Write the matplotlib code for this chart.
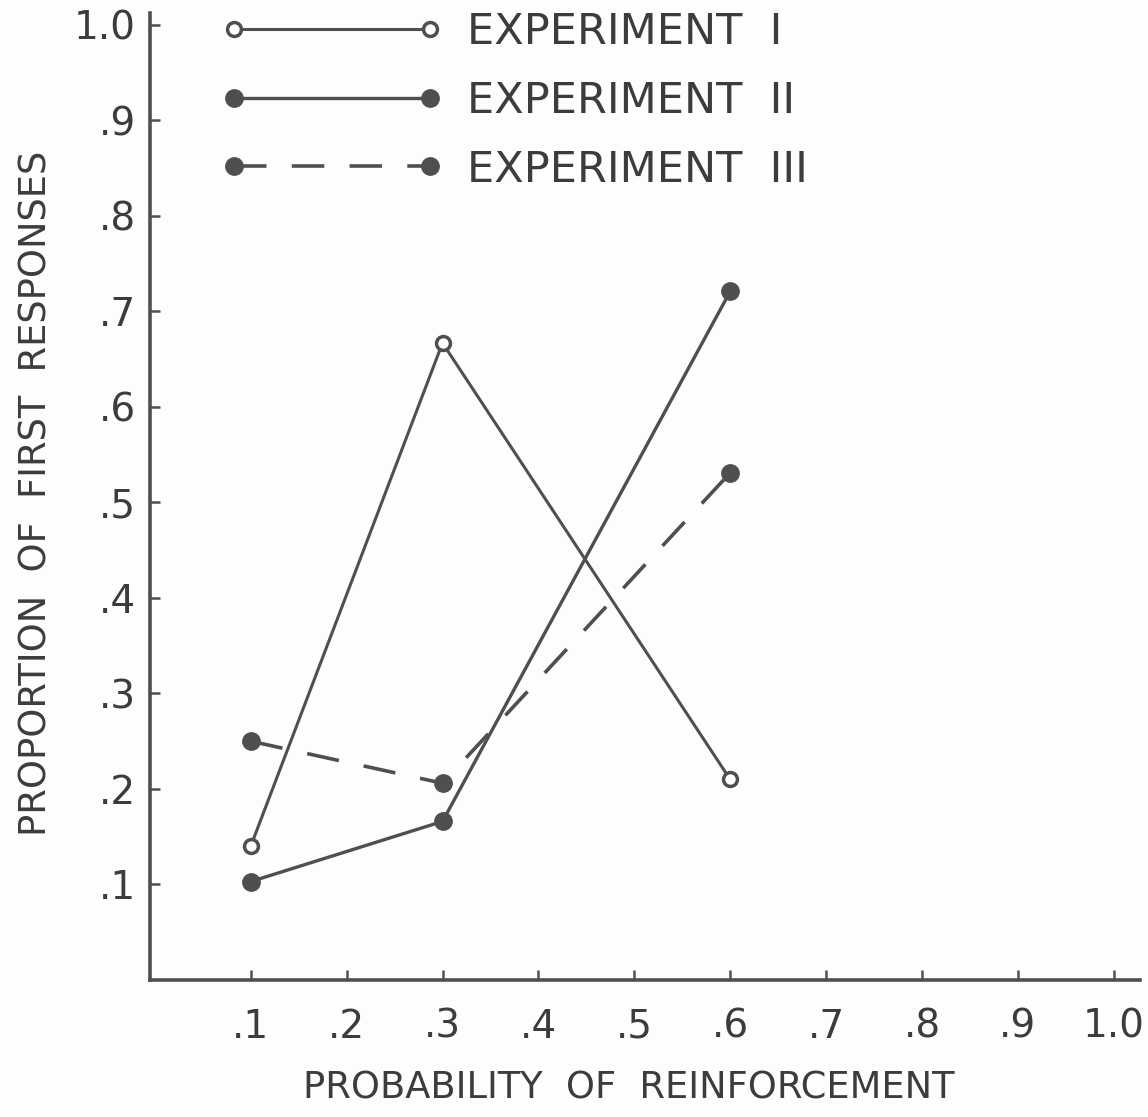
import matplotlib
matplotlib.use('Agg')
import matplotlib.pyplot as plt

# probability of reinforcement
prob = [0.1, 0.3, 0.6]

# proportion of first responses
exp1 = [0.14, 0.667, 0.21]
exp2 = [0.103, 0.166, 0.721]
exp3 = [0.25, 0.206, 0.531]

labels = ['EXPERIMENT  I', 'EXPERIMENT  II', 'EXPERIMENT  III']

xticks = [0.1, 0.2, 0.3, 0.4, 0.5, 0.6, 0.7, 0.8, 0.9, 1.0]
xticklabels = ['.1', '.2', '.3', '.4', '.5', '.6', '.7', '.8', '.9', '1.0']
yticks = [0.1, 0.2, 0.3, 0.4, 0.5, 0.6, 0.7, 0.8, 0.9, 1.0]
yticklabels = ['.1', '.2', '.3', '.4', '.5', '.6', '.7', '.8', '.9', '1.0']

ink = '#4f4f4f'
txt = '#3c3c3c'

fig = plt.figure(figsize=(11.48, 11.17), dpi=100, facecolor='#fdfdfd')
ax = fig.add_axes([0.1307, 0.1227, 0.862, 0.8657])
ax.set_facecolor('#fdfdfd')

ax.plot(prob, exp1, color=ink, lw=2.2, marker='o', ms=10, mfc='white',
        mec=ink, mew=2.5, label=labels[0])
ax.plot(prob, exp2, color=ink, lw=2.4, marker='o', ms=12.5, mfc=ink,
        mec=ink, label=labels[1])
ax.plot(prob, exp3, color=ink, lw=2.6, ls=(0, (9, 7)), marker='o', ms=12.5,
        mfc=ink, mec=ink, label=labels[2])

ax.set_xlim(-0.005, 1.027)
ax.set_ylim(0, 1.0126)

for s in ['top', 'right']:
    ax.spines[s].set_visible(False)
for s in ['left', 'bottom']:
    ax.spines[s].set_linewidth(2.6)
    ax.spines[s].set_color(ink)

ax.set_xticks(xticks)
ax.set_xticklabels(xticklabels)
ax.set_yticks(yticks)
ax.set_yticklabels(yticklabels)
ax.tick_params(direction='in', length=7, width=1.8, color=ink,
               labelsize=28, labelcolor=txt)
ax.tick_params(axis='x', pad=20)
ax.tick_params(axis='y', pad=10)

ax.set_xlabel('PROBABILITY  OF  REINFORCEMENT', fontsize=26.5, color=txt)
ax.set_ylabel('PROPORTION  OF  FIRST  RESPONSES', fontsize=26.5, color=txt)
ax.xaxis.set_label_coords(0.484, -0.093)
ax.yaxis.set_label_coords(-0.097, 0.503)

ax.legend(loc='upper left', bbox_to_anchor=(0.193, 0.990),
          bbox_transform=fig.transFigure, frameon=False, numpoints=2,
          handlelength=5.15, handletextpad=0.55, labelspacing=0.62,
          borderpad=0, borderaxespad=0, prop={'size': 31},
          labelcolor=txt)

fig.savefig('out.png', dpi=100, facecolor=fig.get_facecolor())
